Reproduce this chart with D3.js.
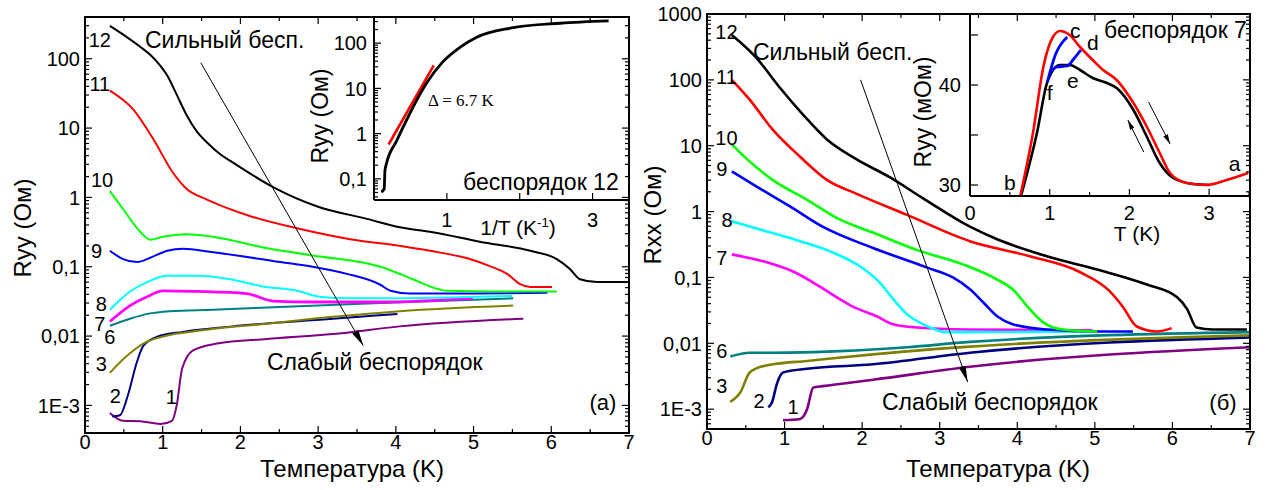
<!DOCTYPE html>
<html><head><meta charset="utf-8">
<script src="https://cdn.jsdelivr.net/npm/d3@7"></script>
<style>
body{margin:0;background:#fff}
svg{display:block}
text{font-family:"Liberation Sans",Arial,sans-serif;fill:#000}
</style>
</head><body>
<svg id="c" width="1276" height="490"></svg>
<script>
// ---------- DATA (T in K, R in Ohm) ----------
// Panel (a): Ryy vs T
const a12 = [[0.32,298],[0.515,214],[0.71,149],[0.84,114],[0.97,79],[1.06,57],[1.18,30.4],[1.31,15.2],[1.44,8.9],[1.57,6.2],[1.74,4.2],[1.90,3.2],[2.42,1.41],[2.99,0.74],[3.63,0.49],[4.05,0.37],[4.44,0.32],[5.08,0.23],[5.73,0.17],[6.07,0.129],[6.24,0.093],[6.37,0.066],[6.59,0.060],[7.0,0.060]];
const a11 = [[0.32,34.7],[0.62,18.6],[0.88,6.9],[1.13,2.29],[1.31,1.32],[1.57,0.93],[2.12,0.54],[2.77,0.35],[3.41,0.25],[4.05,0.20],[4.44,0.17],[4.95,0.129],[5.21,0.102],[5.43,0.079],[5.60,0.056],[5.73,0.051],[6.01,0.051]];
const a10 = [[0.32,1.23],[0.49,0.68],[0.71,0.32],[0.84,0.245],[1.00,0.27],[1.31,0.295],[1.65,0.27],[2.29,0.19],[2.93,0.145],[3.80,0.10],[4.22,0.066],[4.48,0.050],[4.66,0.045],[5.30,0.044],[6.07,0.044]];
const a9  = [[0.32,0.17],[0.49,0.129],[0.67,0.117],[0.84,0.135],[1.06,0.17],[1.26,0.182],[1.65,0.162],[2.51,0.117],[2.93,0.10],[3.37,0.079],[3.80,0.055],[3.93,0.045],[4.18,0.041],[4.86,0.041],[5.95,0.042]];
const a8  = [[0.32,0.024],[0.58,0.044],[0.80,0.060],[1.06,0.074],[1.44,0.074],[1.87,0.066],[2.29,0.052],[2.73,0.045],[3.02,0.037],[3.37,0.035],[3.80,0.035],[5.50,0.038]];
const a7  = [[0.32,0.0162],[0.58,0.0275],[0.80,0.037],[1.00,0.045],[1.44,0.044],[2.08,0.041],[2.42,0.032],[2.93,0.031],[3.80,0.031],[4.99,0.035]];
const a6  = [[0.32,0.0141],[0.58,0.0178],[0.80,0.0209],[1.09,0.0229],[1.65,0.024],[2.51,0.0263],[3.80,0.030],[5.51,0.035]];
const a3  = [[0.32,0.00295],[0.54,0.0052],[0.75,0.0078],[1.06,0.0102],[1.48,0.012],[2.34,0.0151],[3.19,0.019],[4.05,0.0229],[5.51,0.0275]];
const a2  = [[0.35,0.00069],[0.45,0.00072],[0.55,0.00138],[0.67,0.0043],[0.75,0.0072],[0.93,0.0098],[1.26,0.0115],[1.90,0.0138],[3.19,0.0178],[4.02,0.0209]];
const a1  = [[0.32,0.00078],[0.49,0.0006],[0.71,0.00059],[0.97,0.00054],[1.12,0.0006],[1.18,0.001],[1.25,0.0034],[1.39,0.0062],[1.70,0.0078],[2.34,0.0091],[3.19,0.0107],[4.05,0.0138],[5.64,0.0178]];

// Panel (б): Rxx vs T
const b12 = [[0.32,479],[0.64,214],[0.94,76],[1.24,29.5],[1.55,12.3],[1.93,6.2],[2.36,3.3],[2.80,1.55],[3.39,0.59],[3.74,0.38],[4.38,0.21],[5.03,0.132],[5.67,0.078],[6.06,0.050],[6.19,0.033],[6.31,0.0174],[6.52,0.0162],[6.96,0.0162]];
const b11 = [[0.32,100],[0.55,50],[0.85,17.4],[1.20,6.8],[1.55,3.0],[1.93,1.86],[2.58,0.89],[3.39,0.355],[4.16,0.21],[4.81,0.12],[5.19,0.062],[5.36,0.036],[5.54,0.018],[5.80,0.0151],[5.99,0.017]];
const b10 = [[0.32,10.5],[0.52,6.2],[0.85,3.0],[1.29,1.51],[1.71,0.76],[2.14,0.48],[2.71,0.26],[3.30,0.158],[3.74,0.093],[3.94,0.066],[4.16,0.033],[4.33,0.021],[4.59,0.0162],[5.03,0.0151]];
const b9  = [[0.32,4.07],[0.64,2.4],[1.07,1.2],[1.49,0.59],[2.14,0.28],[2.84,0.141],[3.17,0.10],[3.39,0.066],[3.56,0.042],[3.74,0.0257],[3.94,0.0195],[4.38,0.0162],[5.03,0.0151],[5.49,0.0151]];
const b8  = [[0.30,0.72],[0.77,0.50],[1.20,0.355],[1.62,0.24],[1.97,0.148],[2.23,0.083],[2.40,0.047],[2.58,0.0275],[2.84,0.0182],[3.09,0.0148],[3.35,0.0148],[4.97,0.0151]];
const b7  = [[0.32,0.224],[0.77,0.17],[1.11,0.123],[1.46,0.072],[1.71,0.047],[1.88,0.036],[2.19,0.0257],[2.40,0.0195],[2.71,0.0174],[3.35,0.0162],[4.97,0.0158]];
const b6  = [[0.30,0.0063],[0.55,0.0072],[0.85,0.0072],[1.71,0.0076],[2.58,0.0087],[3.39,0.0105],[7.0,0.0148]];
const b3  = [[0.30,0.00129],[0.43,0.0018],[0.55,0.0036],[0.72,0.0045],[0.85,0.0048],[1.29,0.0054],[2.14,0.0068],[3.39,0.0089],[7.0,0.0132]];
const b2  = [[0.79,0.00107],[0.84,0.00129],[0.90,0.0024],[0.98,0.0036],[1.29,0.0041],[2.14,0.0048],[3.39,0.0072],[7.0,0.0123]];
const b1  = [[0.98,0.00068],[1.20,0.00071],[1.29,0.001],[1.37,0.00214],[1.49,0.00224],[2.14,0.0028],[3.39,0.0044],[7.0,0.0087]];

// Inset (a): Ryy vs 1/T, disorder 12
const insA = [[0.10,0.051],[0.14,0.060],[0.15,0.151],[0.17,0.214],[0.31,0.69],[0.49,2.75],[0.72,12.9],[0.94,38],[1.18,81],[1.41,135],[1.87,214],[2.56,275],[3.22,309]];
const insAFit = [[0.20,0.575],[0.82,32.4]];

// Inset (б): Ryy (mOhm) vs T, disorder 7
const insBRed   = [[0.63,28.9],[0.79,35.2],[0.92,41.8],[1.04,44.8],[1.13,45.4],[1.25,45.0],[1.38,43.8],[1.54,42.5],[1.67,41.5],[1.84,40.5],[2.05,38.2],[2.22,35.8],[2.38,33.2],[2.51,31.2],[2.72,30.2],[2.97,30.0],[3.22,30.5],[3.49,31.2]];
const insBBlack = [[0.64,28.9],[0.84,35.2],[0.97,40.3],[1.13,42.0],[1.25,42.0],[1.38,41.5],[1.54,40.7],[1.72,40.2],[1.84,39.7],[2.05,37.5],[2.22,34.8],[2.38,32.2],[2.55,30.7],[2.80,30.1],[3.01,30.0]];
const insBBlue1 = [[0.97,40.3],[1.07,43.0],[1.22,44.8]];
const insBBlue2 = [[1.00,41.3],[1.09,41.8],[1.22,41.9],[1.30,42.6],[1.39,43.5]];

// tick values / labels
const mainXTicks = [0,1,2,3,4,5,6,7];
const leftYTicks = [0.001,0.01,0.1,1,10,100];
const rightYTicks = [0.001,0.01,0.1,1,10,100,1000];
const insAYTicks = [0.1,1,10,100];
const insAXLabels = [1,3];
const insBXTicks = [0,1,2,3];
const insBYLabels = [30,40];

// curve-number labels [label, T, R]
const labelsA = [["12",0.19,186],["11",0.19,44],["10",0.22,1.82],["9",0.15,0.17],["8",0.21,0.0295],["7",0.19,0.0151],["6",0.32,0.0098],["3",0.21,0.004],["2",0.39,0.00138],["1",1.11,0.00135]];
const labelsB = [["12",0.25,537],["11",0.25,112],["10",0.25,13.2],["9",0.19,4.4],["8",0.26,0.76],["7",0.19,0.2],["6",0.19,0.0076],["3",0.19,0.00224],["2",0.67,0.00132],["1",1.11,0.00107]];
const labelsInsB = [["a",3.32,32.2],["b",0.50,30.3],["c",1.32,45.5],["d",1.54,44.3],["e",1.29,40.5],["f",1.00,39.3]];

// ---------- STYLE ----------
const colors = {"12":"#000000","11":"#ff0000","10":"#00ff00","9":"#0000ff","8":"#00ffff","7":"#ff00ff","6":"#008080","3":"#808000","2":"#000080","1":"#800080"};
const seriesA = [["1",a1],["2",a2],["3",a3],["6",a6],["7",a7],["8",a8],["9",a9],["10",a10],["11",a11],["12",a12]];
const seriesB = [["1",b1],["2",b2],["3",b3],["6",b6],["7",b7],["8",b8],["9",b9],["10",b10],["11",b11],["12",b12]];
const FT = 20, FA = 23, FX = 24;

const svg = d3.select("#c");
const defs = svg.append("defs");
function marker(id, len, wid) {
  defs.append("marker").attr("id", id).attr("viewBox", `0 0 ${len} ${wid}`)
    .attr("refX", len).attr("refY", wid/2).attr("markerWidth", len).attr("markerHeight", wid)
    .attr("markerUnits", "userSpaceOnUse").attr("orient", "auto")
    .append("path").attr("d", `M0,0L${len},${wid/2}L0,${wid}Z`).attr("fill", "#000");
}
marker("arrBig", 16, 7);
marker("arrSmall", 10, 5);

function clip(id, x0, y0, x1, y1) {
  defs.append("clipPath").attr("id", id).append("rect").attr("x", x0).attr("y", y0).attr("width", x1-x0).attr("height", y1-y0);
}

function logTicksY(g, y, x0, dir) {
  const [lo, hi] = y.domain();
  for (let e = Math.floor(Math.log10(lo)); e <= Math.ceil(Math.log10(hi)); e++) {
    for (let m = 1; m <= 9; m++) {
      const v = m * Math.pow(10, e);
      if (v < lo*0.999 || v > hi*1.001) continue;
      const len = m === 1 ? 7 : 4;
      g.append("line").attr("x1", x0).attr("x2", x0 + dir*len).attr("y1", y(v)).attr("y2", y(v))
        .attr("stroke", "#000").attr("stroke-width", 1.2);
    }
  }
}
function linTicksX(g, x, vals, y0, dir, majorFn) {
  vals.forEach(v => {
    const len = majorFn(v) ? 7 : 4;
    g.append("line").attr("x1", x(v)).attr("x2", x(v)).attr("y1", y0).attr("y2", y0 + dir*len)
      .attr("stroke", "#000").attr("stroke-width", 1.2);
  });
}
const yFmt = v => v === 0.001 ? "1E-3" : String(v).replace(".", ",");

function mainPanel(x, y, series, labels, yTicks, clipId, lw) {
  const [X0, X1] = x.range(); const [Y1, Y0] = y.range();
  clip(clipId, X0, Y0, X1, Y1);
  const g = svg.append("g").attr("clip-path", `url(#${clipId})`);
  const line = d3.line().x(d => x(d[0])).y(d => y(d[1])).curve(d3.curveMonotoneX);
  series.forEach(([k, d]) => {
    g.append("path").attr("d", line(d)).attr("fill", "none").attr("stroke", colors[k])
      .attr("stroke-width", k === "7" && lw < 2.5 ? 2.8 : lw).attr("stroke-linejoin", "round");
  });
  labels.forEach(([t, T, R]) => {
    svg.append("text").attr("x", x(T)).attr("y", y(R)).attr("dy", "0.36em")
      .attr("text-anchor", "middle").attr("font-size", FT).text(t);
  });
  mainXTicks.forEach(v => svg.append("text").attr("x", x(v)).attr("y", Y1 + 16).attr("text-anchor", "middle")
    .attr("font-size", FT).text(v));
  yTicks.forEach(v => svg.append("text").attr("x", X0 - 5).attr("y", y(v)).attr("dy", "0.36em")
    .attr("text-anchor", "end").attr("font-size", FT).text(yFmt(v)));
}
function mainFrame(x, y) {
  const [X0, X1] = x.range(); const [Y1, Y0] = y.range();
  const g = svg.append("g");
  const xt = d3.range(0, 7.001, 0.5);
  linTicksX(g, x, xt, Y1, -1, v => Number.isInteger(v));
  linTicksX(g, x, xt, Y0, 1, v => Number.isInteger(v));
  logTicksY(g, y, X0, 1);
  logTicksY(g, y, X1, -1);
  g.append("rect").attr("x", X0).attr("y", Y0).attr("width", X1-X0).attr("height", Y1-Y0)
    .attr("fill", "none").attr("stroke", "#000").attr("stroke-width", 2);
}

// ---------- PANEL (a) ----------
const xA = d3.scaleLinear([0, 7], [85, 629]);
const yA = d3.scaleLog([4e-4, 400], [433, 17]);
mainPanel(xA, yA, seriesA, labelsA, leftYTicks, "clipA", 2.0);

// inset (a)
const xIA = d3.scaleLinear([0, 3.5], [374, 629]);
const yIA = d3.scaleLog([0.0341, 378], [200, 17]);
svg.append("rect").attr("x", 374).attr("y", 17).attr("width", 255).attr("height", 183).attr("fill", "#fff");
clip("clipIA", 374, 17, 629, 200);
{
  const g = svg.append("g").attr("clip-path", "url(#clipIA)");
  const line = d3.line().x(d => xIA(d[0])).y(d => yIA(d[1])).curve(d3.curveMonotoneX);
  g.append("path").attr("d", line(insAFit)).attr("fill", "none").attr("stroke", "#ff0000").attr("stroke-width", 2.6);
  g.append("path").attr("d", line(insA)).attr("fill", "none").attr("stroke", "#000").attr("stroke-width", 2.8);
  const gt = svg.append("g");
  logTicksY(gt, yIA, 374, 1);
  linTicksX(gt, xIA, [1, 2, 3], 200, -1, () => true);
  gt.append("line").attr("x1", 374).attr("x2", 374).attr("y1", 17).attr("y2", 200).attr("stroke", "#000").attr("stroke-width", 2);
  gt.append("line").attr("x1", 374).attr("x2", 629).attr("y1", 200).attr("y2", 200).attr("stroke", "#000").attr("stroke-width", 2);
  insAYTicks.forEach(v => svg.append("text").attr("x", 367).attr("y", yIA(v)).attr("dy", "0.36em")
    .attr("text-anchor", "end").attr("font-size", FT).text(yFmt(v)));
  insAXLabels.forEach(v => svg.append("text").attr("x", xIA(v)).attr("y", 227).attr("text-anchor", "middle")
    .attr("font-size", FT).text(v));
  const t = svg.append("text").attr("x", 518).attr("y", 235).attr("text-anchor", "middle").attr("font-size", 21);
  t.append("tspan").text("1/T (K");
  t.append("tspan").attr("font-size", 13).attr("dy", -8).text("-1");
  t.append("tspan").attr("dy", 8).text(")");
  svg.append("text").attr("transform", "translate(328,116) rotate(-90)").attr("text-anchor", "middle")
    .attr("font-size", FA).text("Ryy (Ом)");
  svg.append("text").attr("x", 428).attr("y", 106).attr("font-size", 17)
    .style("font-family", '"Liberation Serif","Times New Roman",serif').text("Δ = 6.7 K");
  svg.append("text").attr("x", 463).attr("y", 190).attr("font-size", FA).text("беспорядок 12");
}
mainFrame(xA, yA);

// annotations (a)
svg.append("line").attr("x1", xA(1.49)).attr("y1", yA(87.6)).attr("x2", xA(3.58)).attr("y2", yA(0.0073))
  .attr("stroke", "#000").attr("stroke-width", 1).attr("marker-end", "url(#arrBig)");
svg.append("text").attr("x", 145).attr("y", 48).attr("font-size", FA).text("Сильный бесп.");
svg.append("text").attr("x", 267).attr("y", 370).attr("font-size", FA).text("Слабый беспорядок");
svg.append("text").attr("x", 603).attr("y", 410).attr("text-anchor", "middle").attr("font-size", 22).text("(a)");
svg.append("text").attr("x", 352).attr("y", 477).attr("text-anchor", "middle").attr("font-size", FX).text("Температура (K)");
svg.append("text").attr("transform", "translate(31,228) rotate(-90)").attr("text-anchor", "middle")
  .attr("font-size", FX).text("Ryy (Ом)");

// ---------- PANEL (б) ----------
const xB = d3.scaleLinear([0, 7], [707, 1250]);
const yB = d3.scaleLog([5e-4, 1000], [429, 14]);
mainPanel(xB, yB, seriesB, labelsB, rightYTicks, "clipB", 2.6);

// inset (б)
const xIB = d3.scaleLinear([0, 3.5], [970, 1249]);
const yIB = d3.scaleLinear([28.9, 47.1], [196, 14]);
svg.append("rect").attr("x", 970).attr("y", 14).attr("width", 280).attr("height", 182).attr("fill", "#fff");
clip("clipIB", 970, 14, 1250, 196);
{
  const g = svg.append("g").attr("clip-path", "url(#clipIB)");
  const line = d3.line().x(d => xIB(d[0])).y(d => yIB(d[1])).curve(d3.curveMonotoneX);
  g.append("path").attr("d", line(insBBlack)).attr("fill", "none").attr("stroke", "#000").attr("stroke-width", 2.6);
  g.append("path").attr("d", line(insBRed)).attr("fill", "none").attr("stroke", "#ff0000").attr("stroke-width", 2.6);
  g.append("path").attr("d", line(insBBlue1)).attr("fill", "none").attr("stroke", "#0000ff").attr("stroke-width", 2.8);
  g.append("path").attr("d", line(insBBlue2)).attr("fill", "none").attr("stroke", "#0000ff").attr("stroke-width", 2.8);
  g.append("line").attr("x1", xIB(2.18)).attr("y1", yIB(33.3)).attr("x2", xIB(1.98)).attr("y2", yIB(36.5))
    .attr("stroke", "#000").attr("stroke-width", 1).attr("marker-end", "url(#arrSmall)");
  g.append("line").attr("x1", xIB(2.24)).attr("y1", yIB(38.3)).attr("x2", xIB(2.51)).attr("y2", yIB(34.1))
    .attr("stroke", "#000").attr("stroke-width", 1).attr("marker-end", "url(#arrSmall)");
  const gt = svg.append("g");
  linTicksX(gt, xIB, d3.range(0, 3.501, 0.5), 196, -1, v => Number.isInteger(v));
  [30, 35, 40, 45].forEach(v => gt.append("line").attr("x1", 970).attr("x2", 978).attr("y1", yIB(v)).attr("y2", yIB(v))
    .attr("stroke", "#000").attr("stroke-width", 1.2));
  gt.append("line").attr("x1", 970).attr("x2", 970).attr("y1", 14).attr("y2", 196).attr("stroke", "#000").attr("stroke-width", 2);
  gt.append("line").attr("x1", 970).attr("x2", 1250).attr("y1", 196).attr("y2", 196).attr("stroke", "#000").attr("stroke-width", 2);
  insBXTicks.forEach(v => svg.append("text").attr("x", xIB(v)).attr("y", 220).attr("text-anchor", "middle")
    .attr("font-size", FT).text(v));
  insBYLabels.forEach(v => svg.append("text").attr("x", 961).attr("y", yIB(v)).attr("dy", "0.36em")
    .attr("text-anchor", "end").attr("font-size", FT).text(v));
  svg.append("text").attr("x", 1137).attr("y", 241).attr("text-anchor", "middle").attr("font-size", 21).text("T (K)");
  svg.append("text").attr("transform", "translate(931,112) rotate(-90)").attr("text-anchor", "middle")
    .attr("font-size", FA).text("Ryy (мОм)");
  labelsInsB.forEach(([t, T, R]) => svg.append("text").attr("x", xIB(T)).attr("y", yIB(R)).attr("dy", "0.36em")
    .attr("text-anchor", "middle").attr("font-size", 21).text(t));
  svg.append("text").attr("x", 1104).attr("y", 38).attr("font-size", FA).text("беспорядок 7");
}
mainFrame(xB, yB);

// annotations (б)
svg.append("line").attr("x1", xB(1.98)).attr("y1", yB(100)).attr("x2", xB(3.36)).attr("y2", yB(0.0026))
  .attr("stroke", "#000").attr("stroke-width", 1).attr("marker-end", "url(#arrBig)");
svg.append("text").attr("x", 753).attr("y", 60).attr("font-size", FA).text("Сильный бесп.");
svg.append("text").attr("x", 882).attr("y", 410).attr("font-size", FA).text("Слабый беспорядок");
svg.append("text").attr("x", 1223).attr("y", 410).attr("text-anchor", "middle").attr("font-size", 22).text("(б)");
svg.append("text").attr("x", 998).attr("y", 477).attr("text-anchor", "middle").attr("font-size", FX).text("Температура (K)");
svg.append("text").attr("transform", "translate(661,215) rotate(-90)").attr("text-anchor", "middle")
  .attr("font-size", FX).text("Rxx (Ом)");
</script>
</body></html>
